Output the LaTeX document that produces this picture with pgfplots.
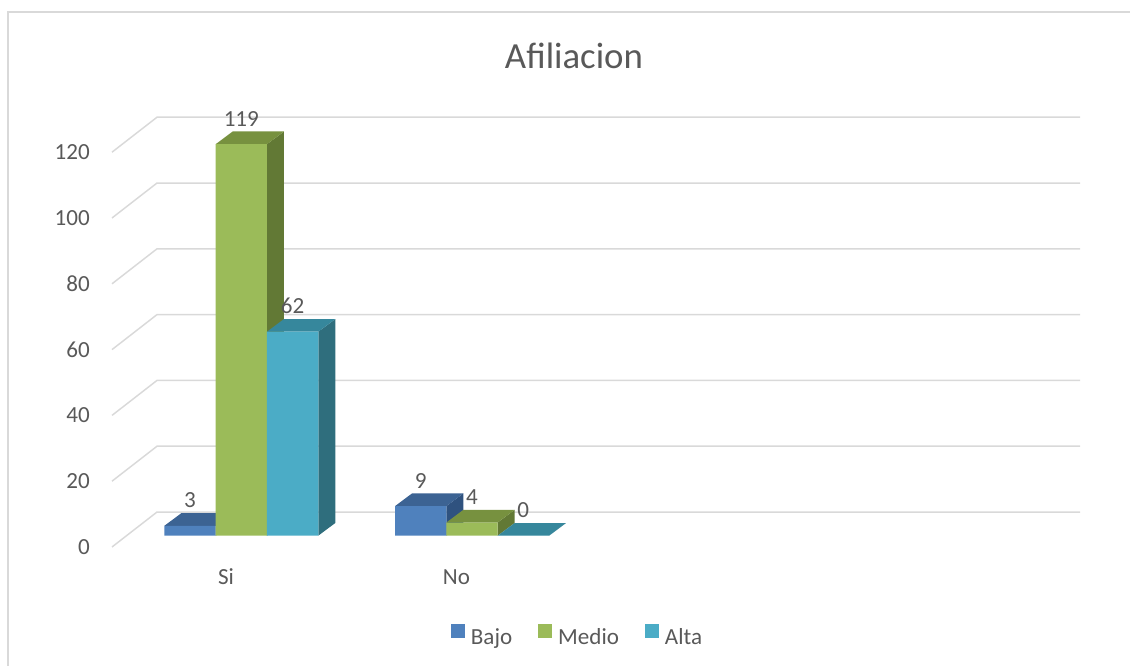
\documentclass[border=0pt]{standalone}
\usepackage{pgfplots}
\pgfplotsset{compat=1.18}
\usepackage{pgfplotstable}
\usepackage{fontspec}
\setmainfont{Carlito}
\definecolor{bajo}{HTML}{4F81BD}
\definecolor{bajotop}{HTML}{3C6393}
\definecolor{bajoside}{HTML}{2F527F}
\definecolor{medio}{HTML}{9BBB59}
\definecolor{mediotop}{HTML}{77913F}
\definecolor{medioside}{HTML}{627935}
\definecolor{alta}{HTML}{4BACC6}
\definecolor{altatop}{HTML}{36879C}
\definecolor{altaside}{HTML}{2F6E7D}
\definecolor{labelgray}{HTML}{595959}
\definecolor{gridgray}{HTML}{D9D9D9}
\newcommand\lbl{\fontsize{17.3}{20.8}\selectfont}
\newcommand\ttl{\fontsize{27.6}{33}\selectfont}

% category centre (px) and values
\pgfplotstableread{
x Bajo Medio Alta
241.3 3 119 62
472 9 4 0
}\data

\pgfplotsset{sqlegend/.style={legend image code/.code={\fill[##1] (0pt,0pt) rectangle (10.5pt,10.5pt);}}}

% top and side faces of a 3D bar, values taken from the table
\newcommand\faces[4]{%
  \pgfplotstablegetelem{#1}{x}\of\data\let\cx\pgfplotsretval
  \pgfplotstablegetelem{#1}{#2}\of\data\let\val\pgfplotsretval
  \pgfmathsetmacro\xl{\cx+#3-25.65}%
  \pgfmathsetmacro\xr{\cx+#3+25.65}%
  \pgfmathsetmacro\xlb{\xl+17}%
  \pgfmathsetmacro\xrb{\xr+17}%
  \pgfmathsetmacro\vt{\val+3.86}%
  \edef\tmp{%
    \noexpand\addplot[forget plot,fill=#4side,draw=none] coordinates {(\xr,0) (\xr,\val) (\xrb,\vt) (\xrb,3.86)} -- cycle;%
    \noexpand\addplot[forget plot,fill=#4top,draw=none] coordinates {(\xl,\val) (\xr,\val) (\xrb,\vt) (\xlb,\vt)} -- cycle;%
  }\tmp
}

\begin{document}
\begin{tikzpicture}
\begin{axis}[
  x=0.75pt, y=2.4675pt,
  xmin=0, xmax=1130, ymin=-39.6, ymax=162.83,
  enlargelimits=false, clip=false,
  axis line style={draw=none}, tick style={draw=none},
  xtick={226,456.5}, xticklabels={Si,No},
  ytick={-3.43,16.57,36.57,56.57,76.57,96.57,116.57},
  yticklabels={0,20,40,60,80,100,120},
  ticklabel style={font=\lbl, text=labelgray, inner sep=0pt},
  xticklabel style={anchor=center, yshift=66.75pt},
  yticklabel style={anchor=east, xshift=67.5pt},
  /pgf/number format/assume math mode=true,
  legend columns=3,
  legend style={at={(axis cs:576.5,-30.18)}, anchor=center, draw=none, fill=none,
    font=\lbl, text=labelgray, inner sep=0pt, nodes={inner sep=0pt},
    /tikz/every odd column/.append style={column sep=4.5pt},
    /tikz/every even column/.append style={column sep=19.5pt}},
  every node near coord/.append style={anchor=center, yshift=19.1pt, font=\lbl, text=labelgray, inner sep=0pt},
]
% chart frame
\draw[gridgray, line width=0.8pt] (axis cs:8,-39.6) -- (axis cs:8,159.18) -- (axis cs:1130,159.18);
% walls: gridlines
\pgfplotsinvokeforeach{0,20,40,60,80,100,120}{
  \draw[gridgray, line width=1.1pt] (axis cs:112,{#1-3.43}) -- (axis cs:157,{#1+7.2}) -- (axis cs:1080,{#1+7.2});
}
% Bajo
\faces{0}{Bajo}{-51.3}{bajo}
\faces{1}{Bajo}{-51.3}{bajo}
\addplot[ybar, bar width=38.475pt, bar shift=0pt, fill=bajo, draw=none, sqlegend,
  nodes near coords] table[x expr=\thisrow{x}-51.3, y=Bajo]{\data};
\addlegendentry{Bajo}
% Medio
\faces{0}{Medio}{0}{medio}
\faces{1}{Medio}{0}{medio}
\addplot[ybar, bar width=38.475pt, bar shift=0pt, fill=medio, draw=none, sqlegend,
  nodes near coords] table[x=x, y=Medio]{\data};
\addlegendentry{Medio}
% Alta
\faces{0}{Alta}{51.3}{alta}
\faces{1}{Alta}{51.3}{alta}
\addplot[ybar, bar width=38.475pt, bar shift=0pt, fill=alta, draw=none, sqlegend,
  nodes near coords] table[x expr=\thisrow{x}+51.3, y=Alta]{\data};
\addlegendentry{Alta}
% title
\node[font=\ttl, text=labelgray, anchor=base] at (axis cs:574,142.07) {Afiliacion};
\end{axis}
\pgfresetboundingbox
\useasboundingbox (current axis.south west) rectangle (current axis.north east);
\end{tikzpicture}
\end{document}
